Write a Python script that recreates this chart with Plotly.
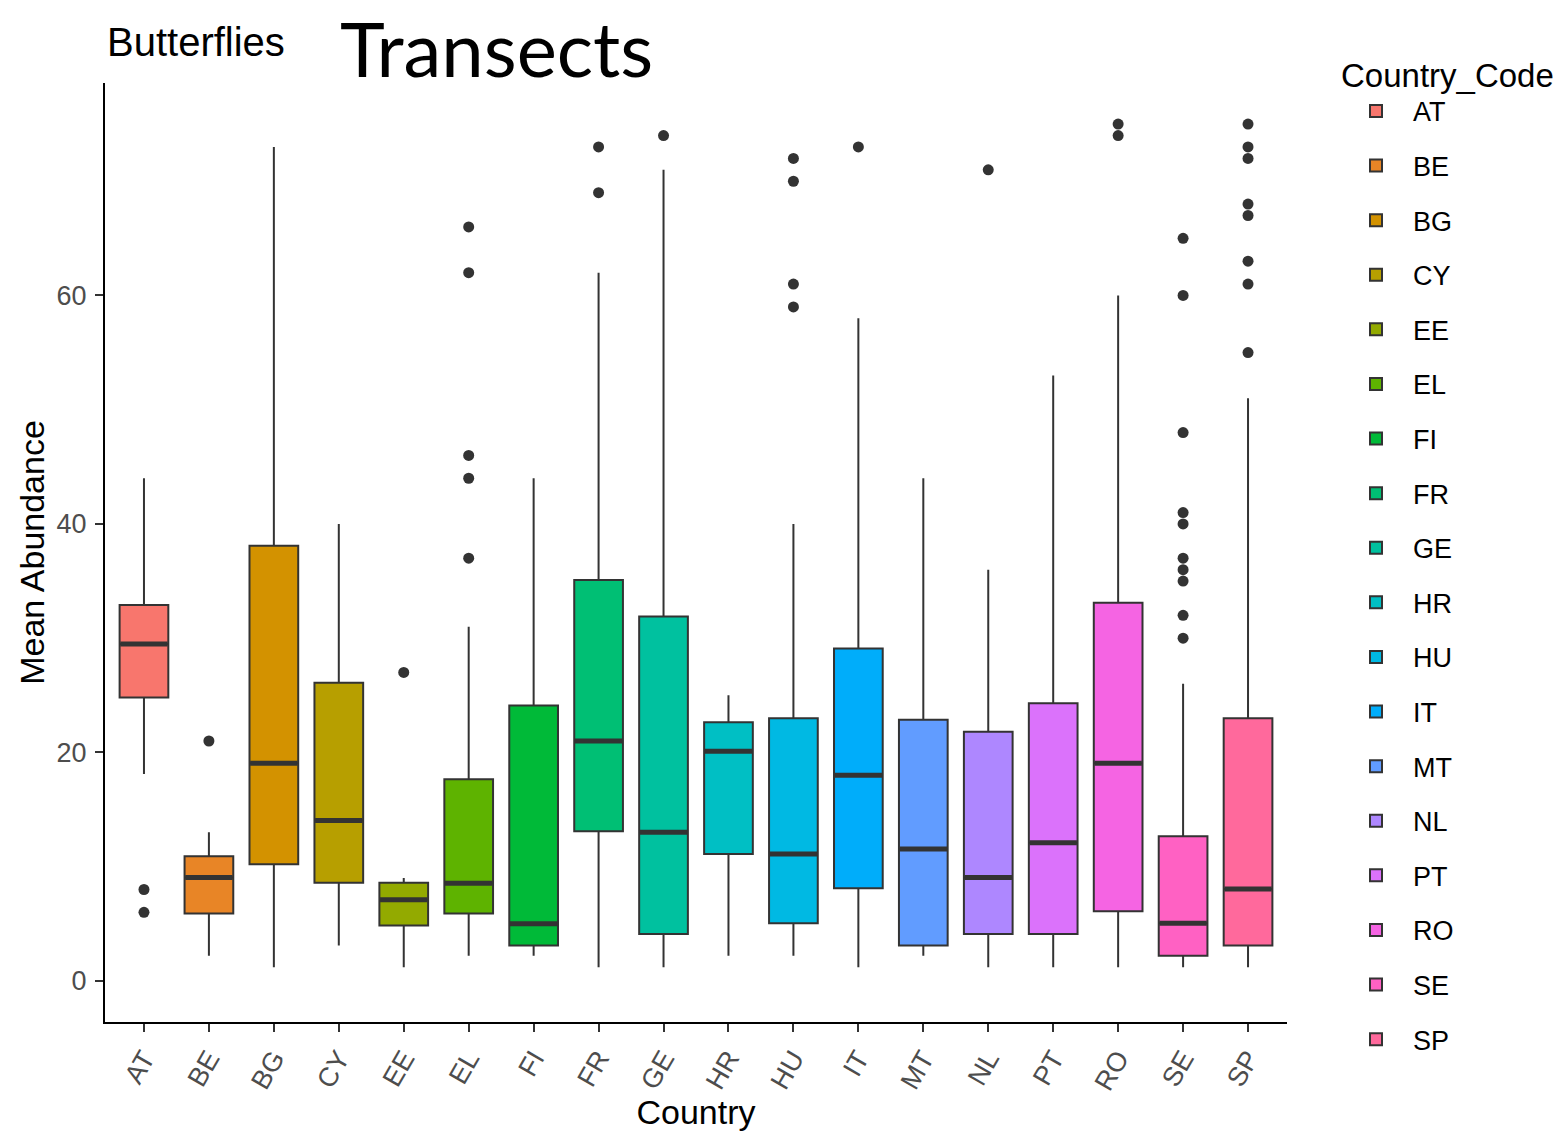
import math
import plotly.graph_objects as go

countries = ["AT", "BE", "BG", "CY", "EE", "EL", "FI", "FR", "GE", "HR",
             "HU", "IT", "MT", "NL", "PT", "RO", "SE", "SP"]
lower_whisker = [18.1, 2.2, 1.2, 3.1, 1.2, 2.2, 2.2, 1.2, 1.2, 2.2,
                 2.2, 1.2, 2.2, 1.2, 1.2, 1.2, 1.2, 1.2]
q1_vals = [24.8, 5.9, 10.2, 8.6, 4.85, 5.9, 3.1, 13.1, 4.1, 11.1,
           5.05, 8.1, 3.1, 4.1, 4.1, 6.1, 2.2, 3.1]
median_vals = [29.5, 9.05, 19.05, 14.05, 7.1, 8.55, 5.0, 21.0, 13.0, 20.1,
               11.1, 18.0, 11.55, 9.05, 12.1, 19.05, 5.05, 8.05]
q3_vals = [32.9, 10.9, 38.1, 26.1, 8.6, 17.65, 24.1, 35.1, 31.9, 22.65,
           23.0, 29.1, 22.85, 21.8, 24.3, 33.1, 12.65, 23.0]
upper_whisker = [44.0, 13.0, 73.0, 40.0, 9.0, 31.0, 44.0, 62.0, 71.0, 25.0,
                 40.0, 58.0, 44.0, 36.0, 53.0, 60.0, 26.0, 51.0]
outliers = [
    [6, 8],
    [21],
    [],
    [],
    [27],
    [37, 44, 46, 62, 66],
    [],
    [69, 73],
    [74],
    [],
    [59, 61, 70, 72],
    [73],
    [],
    [71],
    [],
    [74, 75],
    [30, 32, 35, 36, 37, 40, 41, 48, 60, 65],
    [55, 61, 63, 67, 68, 72, 73, 75],
]


def hcl_to_hex(h, c=100.0, l=65.0):
    # polar CIELUV -> sRGB (as in R's hcl())
    xn, yn, zn = 95.047, 100.0, 108.883
    un = 4 * xn / (xn + 15 * yn + 3 * zn)
    vn = 9 * yn / (xn + 15 * yn + 3 * zn)
    u = c * math.cos(math.radians(h))
    v = c * math.sin(math.radians(h))
    y = yn * ((l + 16) / 116) ** 3
    up = u / (13 * l) + un
    vp = v / (13 * l) + vn
    x = 9.0 * y * up / (4 * vp)
    z = -x / 3 - 5 * y + 3 * y / vp
    x, y, z = x / 100, y / 100, z / 100
    r = 3.240479 * x - 1.537150 * y - 0.498535 * z
    g = -0.969256 * x + 1.875992 * y + 0.041556 * z
    b = 0.055648 * x - 0.204043 * y + 1.057311 * z

    def gam(t):
        t = max(0.0, min(1.0, t))
        return 12.92 * t if t <= 0.0031308 else 1.055 * t ** (1 / 2.4) - 0.055

    return "#%02X%02X%02X" % tuple(int(round(255 * gam(t))) for t in (r, g, b))


n = len(countries)
hues = [15 + 360 * i / n for i in range(n)]
colors = [hcl_to_hex(h) for h in hues]

fig = go.Figure()
half = 0.375
for i, code in enumerate(countries):
    fig.add_trace(go.Box(
        x=[i], q1=[q1_vals[i]], median=[median_vals[i]], q3=[q3_vals[i]],
        lowerfence=[lower_whisker[i]], upperfence=[upper_whisker[i]],
        width=0.75, fillcolor=colors[i], whiskerwidth=0,
        line=dict(color="#333333", width=2), boxpoints=False,
        name=code, legendgroup=code, showlegend=True,
    ))

# thick median lines (ggplot fatten)
mx, my = [], []
for i, m in enumerate(median_vals):
    mx += [i - half + 0.01, i + half - 0.01, None]
    my += [m, m, None]
fig.add_trace(go.Scatter(x=mx, y=my, mode="lines",
                         line=dict(color="#333333", width=5),
                         showlegend=False, hoverinfo="skip"))

ox, oy = [], []
for i, pts in enumerate(outliers):
    for p in pts:
        ox.append(i)
        oy.append(p)
fig.add_trace(go.Scatter(x=ox, y=oy, mode="markers",
                         marker=dict(color="#333333", size=11),
                         showlegend=False, hoverinfo="skip"))

font = "Liberation Sans, Arial, sans-serif"
plot_h = 1131 - 83 - 109
plot_w = 1566 - 105 - 279
fig.update_layout(
    width=1566, height=1131,
    margin=dict(l=105, r=279, t=83, b=109, autoexpand=False),
    paper_bgcolor="white", plot_bgcolor="white",
    font=dict(family=font, color="black"),
    showlegend=True,
    legend=dict(
        title=dict(text="Country_Code", font=dict(size=33, color="black")),
        font=dict(size=27, color="black"),
        x=(1339 - 105) / plot_w, xanchor="left",
        y=1 + 39 / plot_h, yanchor="top",
        tracegroupgap=16.5, itemwidth=64, maxheight=1.0,
        bgcolor="rgba(0,0,0,0)",
    ),
    xaxis=dict(
        range=[-0.6, 17.6], tickvals=list(range(n)), ticktext=countries,
        tickangle=-60, showgrid=False, zeroline=False, automargin=False,
        showline=True, linecolor="black", linewidth=2,
        ticks="outside", ticklen=8, tickcolor="#333333", tickwidth=2,
        tickfont=dict(size=27, color="#4D4D4D"),
        title=dict(text="Country", font=dict(size=34, color="black"), standoff=8),
    ),
    yaxis=dict(
        range=[-3.6, 78.6], tickvals=[0, 20, 40, 60], showgrid=False, zeroline=False,
        automargin=False,
        showline=True, linecolor="black", linewidth=2,
        ticks="outside", ticklen=8, tickcolor="#333333", tickwidth=2,
        ticklabelstandoff=3,
        tickfont=dict(size=27, color="#4D4D4D"),
        title=dict(text="Mean Abundance", font=dict(size=34, color="black"), standoff=2),
    ),
    annotations=[
        dict(text="Butterflies", xref="paper", yref="paper", x=0, y=1.0 + 41 / plot_h,
             xanchor="left", yanchor="middle", showarrow=False,
             font=dict(size=40, color="black", family=font)),
        dict(text="Transects", xref="paper", yref="paper", x=(338 - 105) / plot_w,
             y=1.0 + 83 / plot_h, xanchor="left", yanchor="top", showarrow=False,
             font=dict(size=76, color="black", family="Lato, Carlito, sans-serif")),
    ],
)

fig.write_html("out.html", config={"displayModeBar": False},
               post_script="document.body.style.margin='0px';")
